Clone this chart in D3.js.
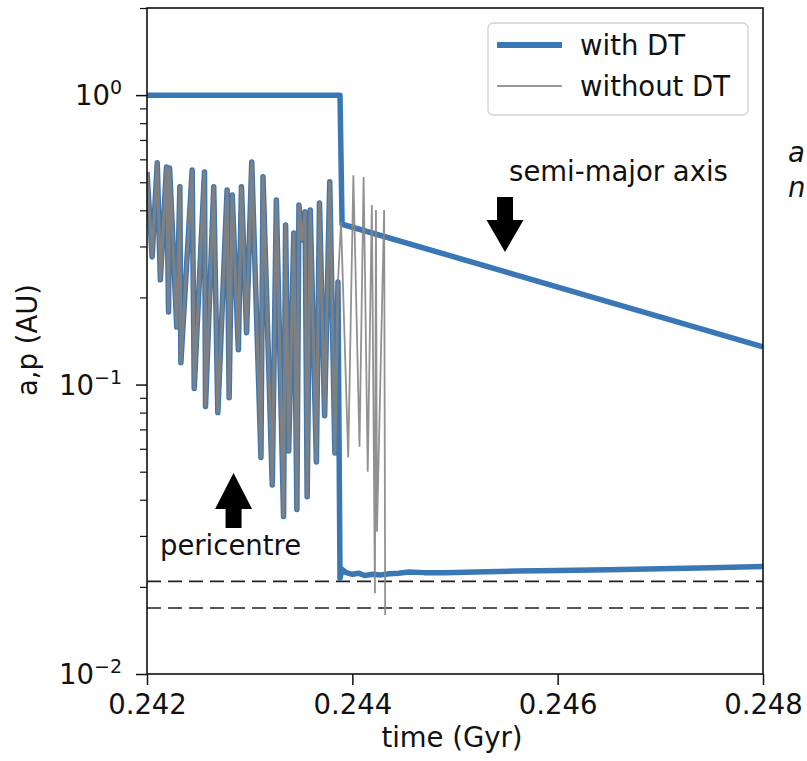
<!DOCTYPE html>
<html>
<head>
<meta charset="utf-8">
<script src="https://cdn.jsdelivr.net/npm/d3@7"></script>
<style>
  html, body { margin: 0; padding: 0; background: #fff; }
  svg text { font-family: "DejaVu Sans", sans-serif; fill: #111; }
</style>
</head>
<body>
<svg id="chart" width="807" height="761"></svg>
<script>
// pericentre with DT (oscillating phase, before the drop)
const periTime = [0.24200, 0.24205, 0.24210, 0.24213, 0.24219, 0.24221, 0.24222, 0.24229, 0.24232, 0.24233,
  0.24244, 0.24246, 0.24256, 0.24257, 0.24265, 0.24269, 0.24278, 0.24280, 0.24283, 0.24289,
  0.24292, 0.24297, 0.24302, 0.24311, 0.24313, 0.24322, 0.24326, 0.24333, 0.24335, 0.24338,
  0.24343, 0.24346, 0.24348, 0.24351, 0.24354, 0.24356, 0.24359, 0.24365, 0.24368, 0.24373,
  0.24378, 0.24383, 0.24386];
const periWithDT = [0.543, 0.276, 0.584, 0.230, 0.565, 0.178, 0.560, 0.158, 0.482, 0.119,
  0.551, 0.097, 0.543, 0.084, 0.482, 0.080, 0.470, 0.090, 0.452, 0.132,
  0.482, 0.151, 0.588, 0.056, 0.522, 0.045, 0.434, 0.035, 0.356, 0.059,
  0.334, 0.037, 0.417, 0.316, 0.395, 0.041, 0.401, 0.054, 0.424, 0.078,
  0.502, 0.058, 0.226];

// pericentre with DT after circularisation
const tailTime = [0.24388, 0.24390, 0.24394, 0.24400, 0.24406, 0.24412, 0.24420, 0.24428, 0.24436, 0.24445,
  0.24455, 0.24470, 0.24490, 0.24520, 0.24560, 0.24600, 0.24650, 0.24700, 0.24750, 0.24800];
const tailWithDT = [0.0214, 0.0230, 0.0224, 0.0221, 0.0223, 0.0219, 0.0221, 0.0220, 0.0222, 0.0223,
  0.0225, 0.0224, 0.0224, 0.0225, 0.0227, 0.0228, 0.0229, 0.0231, 0.0233, 0.0235];

// semi-major axis with DT
const semiTime = [0.24200, 0.24388, 0.24390, 0.24800];
const semiWithDT = [1.0, 1.0, 0.358, 0.135];

// without DT: follows the same oscillation, then keeps going until it ends
const noDtTailTime = [0.24389, 0.24396, 0.24401, 0.24407, 0.24411, 0.24415, 0.24419, 0.24422, 0.24423, 0.24424, 0.24431, 0.24432];
const noDtTailValue = [0.364, 0.056, 0.529, 0.061, 0.521, 0.050, 0.417, 0.019, 0.401, 0.031, 0.401, 0.016];

// horizontal dashed reference lines
const refLines = [0.0209, 0.0169];

const xTicks = [0.242, 0.244, 0.246, 0.248];
const yMajor = [0.01, 0.1, 1];
const yLabels = ['\u22122', '\u22121', '0'];

const svg = d3.select('#chart');
const width = 807, height = 761;
const margin = { top: 8, right: 44, bottom: 87, left: 147 };
const fs = 27.5;
const blue = '#3a77b5';

const x = d3.scaleLinear().domain([0.242, 0.248]).range([margin.left, width - margin.right]);
const y = d3.scaleLog().domain([0.01, 2]).range([height - margin.bottom, margin.top]);

svg.append('defs').append('clipPath').attr('id', 'clip')
  .append('rect')
  .attr('x', margin.left).attr('y', margin.top)
  .attr('width', width - margin.left - margin.right)
  .attr('height', height - margin.top - margin.bottom);

const zip = (ts, vs) => ts.map((t, i) => [t, vs[i]]);
const line = d3.line().x(d => x(d[0])).y(d => y(d[1]));

const plot = svg.append('g').attr('clip-path', 'url(#clip)');

// dashed lines
plot.selectAll('line.ref')
  .data(refLines)
  .enter()
  .append('line')
  .attr('class', 'ref')
  .attr('x1', margin.left).attr('x2', width - margin.right)
  .attr('y1', d => y(d)).attr('y2', d => y(d))
  .attr('stroke', '#222')
  .attr('stroke-width', 1.6)
  .attr('stroke-dasharray', '14,7');

// with DT
plot.append('path')
  .datum(zip(semiTime, semiWithDT))
  .attr('d', line)
  .attr('fill', 'none').attr('stroke', blue).attr('stroke-width', 5.5)
  .attr('stroke-linejoin', 'round');

plot.append('path')
  .datum(zip(periTime, periWithDT).concat(zip(tailTime, tailWithDT)))
  .attr('d', line)
  .attr('fill', 'none').attr('stroke', blue).attr('stroke-width', 5.5)
  .attr('stroke-linejoin', 'round');

// without DT (thin grey, dense overlap makes it look thicker on the left)
plot.append('path')
  .datum(zip(periTime, periWithDT))
  .attr('d', line)
  .attr('fill', 'none').attr('stroke', '#808080').attr('stroke-width', 3)
  .attr('stroke-linejoin', 'round');

plot.append('path')
  .datum([[periTime[periTime.length - 1], periWithDT[periWithDT.length - 1]]].concat(zip(noDtTailTime, noDtTailValue)))
  .attr('d', line)
  .attr('fill', 'none').attr('stroke', '#858585').attr('stroke-width', 1.8)
  .attr('stroke-opacity', 0.9);

// axes
const xAxis = svg.append('g')
  .attr('transform', `translate(0,${height - margin.bottom})`)
  .call(d3.axisBottom(x).tickValues(xTicks).tickFormat(d3.format('.3f')).tickSizeInner(11).tickSizeOuter(0).tickPadding(9));
xAxis.select('.domain').remove();
xAxis.selectAll('line').attr('stroke', '#111').attr('stroke-width', 1.5);
xAxis.selectAll('text').attr('font-size', fs).attr('font-family', 'DejaVu Sans').attr('fill', '#111');

const yMinor = [];
[0.01, 0.1, 1].forEach(b => d3.range(2, 10).forEach(k => { if (b * k <= 2) yMinor.push(b * k); }));

const yAxisMinor = svg.append('g')
  .attr('transform', `translate(${margin.left},0)`)
  .call(d3.axisLeft(y).tickValues(yMinor).tickFormat('').tickSizeInner(7).tickSizeOuter(0));
yAxisMinor.select('.domain').remove();
yAxisMinor.selectAll('line').attr('stroke', '#111').attr('stroke-width', 1.2);

const yAxis = svg.append('g')
  .attr('transform', `translate(${margin.left},0)`)
  .call(d3.axisLeft(y).tickValues(yMajor).tickFormat('').tickSizeInner(11).tickSizeOuter(0));
yAxis.select('.domain').remove();
yAxis.selectAll('line').attr('stroke', '#111').attr('stroke-width', 1.5);

const yLab = svg.selectAll('text.ylab')
  .data(yMajor)
  .enter()
  .append('text')
  .attr('class', 'ylab')
  .attr('x', 122)
  .attr('y', d => y(d) + 10)
  .attr('text-anchor', 'end')
  .attr('font-size', fs);
yLab.append('tspan').text('10');
yLab.append('tspan').attr('dy', -11).attr('font-size', 19).text((d, i) => yLabels[i]);

// frame
svg.append('rect')
  .attr('x', margin.left).attr('y', margin.top)
  .attr('width', width - margin.left - margin.right)
  .attr('height', height - margin.top - margin.bottom)
  .attr('fill', 'none').attr('stroke', '#111').attr('stroke-width', 1.6);

// axis titles
svg.append('text')
  .attr('x', 452).attr('y', 747)
  .attr('text-anchor', 'middle').attr('font-size', fs)
  .text('time (Gyr)');
svg.append('text')
  .attr('transform', 'translate(37,340) rotate(-90)')
  .attr('text-anchor', 'middle').attr('font-size', fs)
  .text('a,p (AU)');

// annotations: arrow tip in data coords, text offset in px
function arrow(tx, ty, dir, headLen, headW, shaftLen, shaftW) {
  const s = dir; // -1 = arrow points up, +1 = points down
  const hb = ty - s * headLen, sb = hb - s * shaftLen;
  return `M${tx},${ty} L${tx + headW / 2},${hb} L${tx + shaftW / 2},${hb} L${tx + shaftW / 2},${sb} ` +
    `L${tx - shaftW / 2},${sb} L${tx - shaftW / 2},${hb} L${tx - headW / 2},${hb} Z`;
}

const notes = [
  { t: 0.245487, v: 0.287, dir: 1, headLen: 32, shaftLen: 23, label: 'semi-major axis', dx: 113.5, dy: -71 },
  { t: 0.242843, v: 0.0495, dir: -1, headLen: 36, shaftLen: 19, label: 'pericentre', dx: -3, dy: 82 }
];
notes.forEach(n => {
  const tx = x(n.t), ty = y(n.v);
  svg.append('path').attr('d', arrow(tx, ty, n.dir, n.headLen, 37, n.shaftLen, 16)).attr('fill', '#000');
  svg.append('text')
    .attr('x', tx + n.dx).attr('y', ty + n.dy)
    .attr('text-anchor', 'middle').attr('font-size', fs)
    .text(n.label);
});

// legend
const lg = svg.append('g');
lg.append('rect')
  .attr('x', 488).attr('y', 23).attr('width', 260).attr('height', 92).attr('rx', 5)
  .attr('fill', '#fff').attr('fill-opacity', 0.8).attr('stroke', '#d2d2d2').attr('stroke-width', 1.3);
const legendItems = [
  { label: 'with DT', color: blue, w: 6, y: 45 },
  { label: 'without DT', color: '#777', w: 1.3, y: 86 }
];
legendItems.forEach(d => {
  lg.append('line').attr('x1', 497).attr('x2', 562).attr('y1', d.y).attr('y2', d.y)
    .attr('stroke', d.color).attr('stroke-width', d.w);
  lg.append('text').attr('x', 580).attr('y', d.y + 10).attr('font-size', fs).text(d.label);
});

// clipped text of the neighbouring page column
svg.append('text').attr('x', 788).attr('y', 162).attr('font-size', fs).attr('font-style', 'italic').text('a');
svg.append('text').attr('x', 788).attr('y', 197).attr('font-size', fs).attr('font-style', 'italic').text('n');
</script>
</body>
</html>
